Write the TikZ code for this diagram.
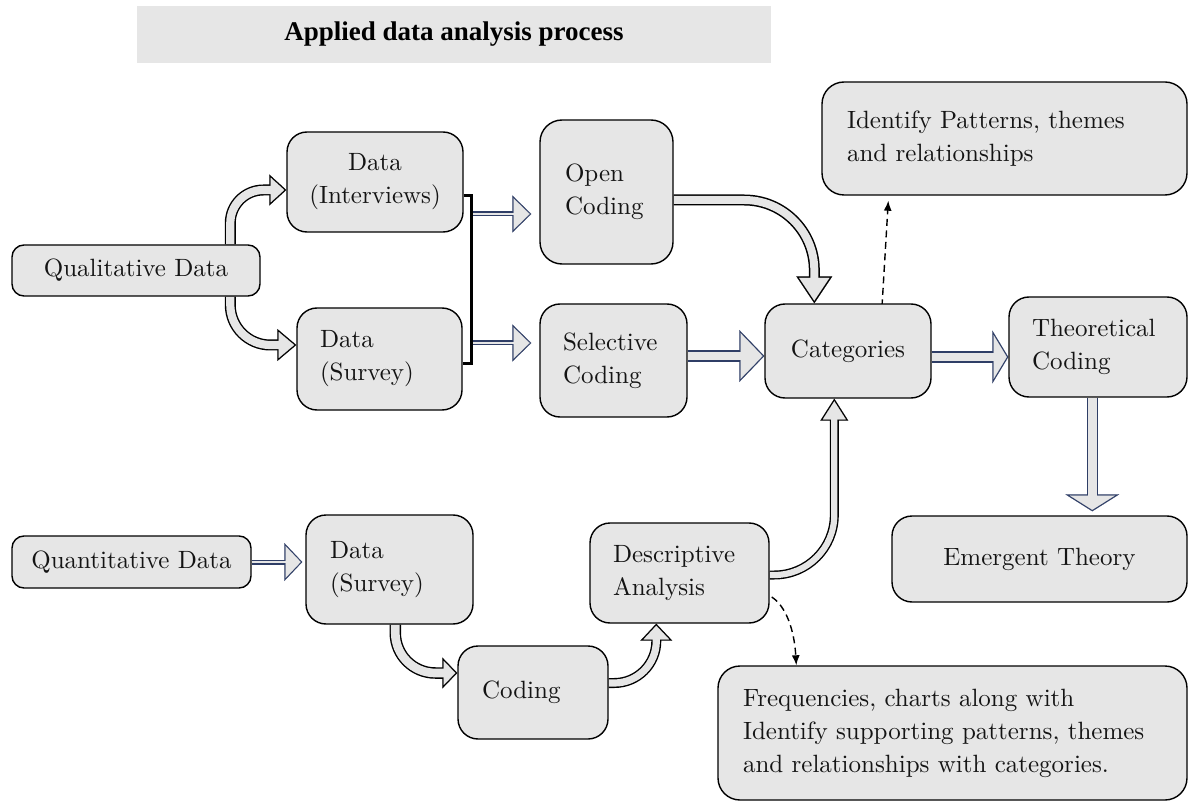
\documentclass[tikz,border=0pt]{standalone}
\usepackage{fontspec}
\newfontfamily\titlefont{Liberation Serif}
\newfontfamily\bodyfont{lmroman10-regular}[Extension=.otf]
\usetikzlibrary{arrows.meta,calc,backgrounds}
\definecolor{boxgray}{RGB}{230,230,230}
\definecolor{navyline}{RGB}{47,62,102}
\definecolor{inkcol}{RGB}{20,20,20}

% Hollow block arrow: colour, shaft width, head width, head length,
% outline thickness, extra path options, path
\newcommand\harrow[7]{%
  \pgfmathsetmacro\hTh{atan((#3/2)/#4)}%
  \pgfmathsetmacro\hBk{#5/sin(\hTh)}%
  \pgfmathsetmacro\hLi{#4-#5-\hBk}%
  \pgfmathsetmacro\hWi{2*((#3/2)*(#4-#5)/#4-#5/cos(\hTh))}%
  \pgfmathsetmacro\hSi{#2-2*#5}%
  \pgfmathsetmacro\hSo{#4-1}%
  \pgfmathsetmacro\hSg{#4-#5-1}%
  \draw[#6, draw=#1, line width=#2pt, shorten >=\hSo pt] #7;
  \draw[#6, draw=#1, line width=0.1pt, -{Triangle[length=#4pt, width=#3pt]}] #7;
  \draw[#6, draw=boxgray, line width=\hSi pt, shorten >=\hSg pt] #7;
  \draw[#6, draw=boxgray, line width=0.1pt, shorten >=\hBk pt,
        -{Triangle[length=\hLi pt, width=\hWi pt]}] #7;
}

\begin{document}
\begin{tikzpicture}[x=1pt, y=-1pt,
  box/.style={draw=black, line width=1.4pt, fill=boxgray, text=inkcol,
    font=\bodyfont\fontsize{25pt}{33pt}\selectfont, rounded corners=#1, inner ysep=0pt},
  box/.default=20pt,
  dasharrow/.style={draw=black, line width=1.4pt, dash pattern=on 7pt off 4.5pt,
    -{Latex[length=10pt, width=8pt]}},
  bracket/.style={draw=black, line width=3pt, line join=miter}
]
\useasboundingbox (0,0) rectangle (1189,802);

% title banner
\node[fill=boxgray, minimum width=634pt, minimum height=57pt, inner sep=0pt,
      text=black, font=\titlefont\bfseries\fontsize{27pt}{30pt}\selectfont]
  (title) at (454,34.5) {Applied data analysis process};

% qualitative branch
\node[box=12pt, minimum width=248pt, minimum height=51pt, align=center]
  (qual) at (136,270.5) {Qualitative Data};
\node[box, minimum width=176pt, minimum height=100pt, align=center]
  (dint) at (375,182) {Data\\(Interviews)};
\node[box, text width=119pt, inner xsep=23pt, minimum height=102pt, align=left]
  (dsu) at (379.5,359) {Data\\(Survey)};
\node[box=22pt, text width=83pt, inner xsep=25pt, minimum height=144pt, align=left]
  (open) at (606.5,192) {Open\\Coding};
\node[box, text width=101pt, inner xsep=23pt, minimum height=113pt, align=left]
  (sel) at (613.5,360.5) {Selective\\Coding};
\node[box, minimum width=166pt, minimum height=94pt, align=center]
  (cat) at (848,351) {Categories};
\node[box=22pt, text width=315pt, inner xsep=25pt, minimum height=113pt, align=left]
  (ident) at (1004.5,138.5) {Identify Patterns, themes\\and relationships};
\node[box, text width=132pt, inner xsep=23pt, minimum height=100pt, align=left]
  (theo) at (1098,347) {Theoretical\\Coding};
\node[box, minimum width=295pt, minimum height=86pt, align=center]
  (emer) at (1039.5,559) {Emergent Theory};

% quantitative branch
\node[box=12pt, minimum width=239pt, minimum height=52pt, align=center]
  (quant) at (131.5,562) {Quantitative Data};
\node[box, text width=119pt, inner xsep=24pt, minimum height=109pt, align=left]
  (dsl) at (389.5,569.5) {Data\\(Survey)};
\node[box, text width=102pt, inner xsep=24pt, minimum height=93pt, align=left]
  (cod) at (533,692.5) {Coding};
\node[box, text width=133pt, inner xsep=23pt, minimum height=100pt, align=left]
  (desc) at (679.5,573) {Descriptive\\Analysis};
\node[box=22pt, text width=419pt, inner xsep=25pt, minimum height=134pt, align=left]
  (freq) at (952.5,733) {Frequencies, charts along with\\Identify supporting patterns, themes\\and relationships with categories.};

% bracket joining both data sources
\coordinate (bt) at (471,196);
\coordinate (bb) at (471,363);
\draw[bracket] (dint.east |- bt) -- (bt) -- (bb) -- (dsu.east |- bb);
\coordinate (o1) at (472.5,214);
\coordinate (s1) at (472.5,343);

\begin{scope}[on background layer]
  % curved arrows out of the qualitative data box
  \harrow{black}{11}{31}{17}{1.4}{rounded corners=33pt}
    {($(qual.north west)+(219,0)$) |- ($(dint.west)+(0,8)$)}
  \harrow{black}{11}{32}{19}{1.4}{rounded corners=40pt}
    {($(qual.south west)+(219,0)$) |- ($(dsu.west)+(0,-14)$)}
  % thin arrows from the bracket
  \harrow{navyline}{5}{37}{19}{1.2}{}
    {(o1) -- ($(o1 -| open.west)+(-8,0)$)}
  \harrow{navyline}{5}{37}{19}{1.2}{}
    {(s1) -- ($(s1 -| sel.west)+(-8,0)$)}
  % coding stages
  \harrow{black}{11}{36}{27}{1.5}{rounded corners=70pt}
    {($(open.east)+(0,8)$) -| ($(cat.north west)+(50,0)$)}
  \harrow{navyline}{11}{52}{25}{1.3}{}
    {($(sel.east)+(0,-4.5)$) -- ($(sel.east -| cat.west)+(0,-4.5)$)}
  \harrow{navyline}{11}{53}{16}{1.3}{}
    {($(cat.east)+(0,6)$) -- ($(cat.east -| theo.west)+(0,6)$)}
  \harrow{navyline}{11}{54}{17}{1.3}{}
    {($(theo.south west)+(84,0)$) -- ($(theo.south west |- emer.north)+(84,-4)$)}
  % quantitative path
  \harrow{navyline}{5}{38}{18}{1.2}{}
    {(quant.east) -- ($(quant.east -| dsl.west)+(-3,0)$)}
  \harrow{black}{11.5}{31}{15}{1.4}{rounded corners=40pt}
    {($(dsl.south west)+(90,0)$) |- ($(cod.west)+(0,-19.5)$)}
  \harrow{black}{10}{32}{17}{1.4}{rounded corners=42pt}
    {($(cod.east)+(0,-9.5)$) -| ($(desc.south west)+(67,0)$)}
  \harrow{black}{9}{28}{22}{1.4}{rounded corners=60pt}
    {($(desc.east)+(0,2)$) -| ($(cat.south west)+(70,0)$)}
  % dashed links to the explanatory notes
  \draw[dasharrow] ($(cat.north)+(34,3)$) -- ($(ident.south west)+(67,5)$);
  \draw[dasharrow] ($(desc.east)+(2,24)$) .. controls +(14,9) and +(-2,-36) ..
    ($(freq.north west)+(79,0)$);
\end{scope}
\end{tikzpicture}
\end{document}
